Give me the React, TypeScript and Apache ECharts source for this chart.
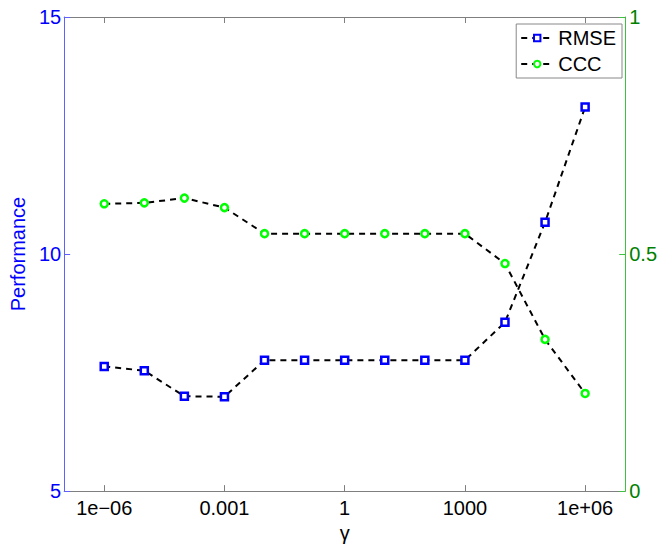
import React, { useEffect, useRef } from "react";
import * as echarts from "echarts";

const gammas = [1e-6, 1e-5, 1e-4, 1e-3, 1e-2, 1e-1, 1, 10, 100, 1000, 1e4, 1e5, 1e6];
const rmse = [7.63, 7.54, 7.0, 6.99, 7.76, 7.76, 7.76, 7.76, 7.76, 7.76, 8.56, 10.67, 13.1];
const ccc = [0.606, 0.608, 0.618, 0.598, 0.543, 0.543, 0.543, 0.543, 0.543, 0.543, 0.48, 0.32, 0.206];
const xTickValues = [1e-6, 1e-3, 1, 1e3, 1e6];
const xTickLabels = ["1e\u221206", "0.001", "1", "1000", "1e+06"];

const FONT = "Liberation Sans, Arial, sans-serif";

export default function App() {
  const ref = useRef<HTMLDivElement>(null);
  useEffect(() => {
    if (!ref.current) return;
    const chart = echarts.init(ref.current, null, { renderer: "svg" });
    const labelFor = (v: number) => {
      const i = xTickValues.findIndex((t) => Math.abs(Math.log10(t) - Math.log10(v)) < 1e-6);
      return i >= 0 ? xTickLabels[i] : "";
    };
    const grayAxis = { lineStyle: { color: "#7f7f7f", width: 1 } };
    chart.setOption({
      animation: false,
      backgroundColor: "#ffffff",
      textStyle: { fontFamily: FONT },
      grid: { left: 63, right: 34, top: 17, bottom: 52, containLabel: false },
      legend: {
        orient: "vertical",
        right: 38,
        top: 24,
        backgroundColor: "#ffffff",
        borderColor: "#888888",
        borderWidth: 1,
        borderRadius: 0,
        padding: [4, 6, 4, 4],
        itemGap: 6,
        itemWidth: 32,
        itemHeight: 8,
        textStyle: { fontSize: 20, color: "#000000", fontFamily: FONT },
        data: ["RMSE", "CCC"],
      },
      xAxis: [
        {
          type: "log",
          logBase: 10,
          min: 1e-7,
          max: 1e7,
          position: "bottom",
          name: "\u03b3",
          nameLocation: "middle",
          nameGap: 28,
          nameTextStyle: { fontSize: 20, color: "#000000", fontFamily: FONT },
          axisLine: grayAxis,
          axisTick: { inside: true, length: 6, lineStyle: { color: "#7f7f7f" }, customValues: xTickValues },
          axisLabel: {
            fontSize: 20,
            color: "#000000",
            margin: 7,
            fontFamily: FONT,
            customValues: xTickValues,
            formatter: (v: number) => labelFor(v),
          },
          splitLine: { show: false },
          minorTick: { show: false },
        },
        {
          type: "log",
          logBase: 10,
          min: 1e-7,
          max: 1e7,
          position: "top",
          axisLine: grayAxis,
          axisTick: { inside: true, length: 6, lineStyle: { color: "#7f7f7f" }, customValues: xTickValues },
          axisLabel: { show: false },
          splitLine: { show: false },
        },
      ],
      yAxis: [
        {
          type: "value",
          min: 5,
          max: 15,
          interval: 5,
          position: "left",
          name: "Performance",
          nameLocation: "middle",
          nameGap: 36,
          nameTextStyle: { fontSize: 20, color: "#0000ff", fontFamily: FONT },
          axisLine: { show: true, lineStyle: { color: "#6060ff", width: 1 } },
          axisTick: { show: true, inside: true, length: 6, lineStyle: { color: "#6060ff" } },
          axisLabel: { fontSize: 20, color: "#0000ff", margin: 3, fontFamily: FONT },
          splitLine: { show: false },
        },
        {
          type: "value",
          min: 0,
          max: 1,
          interval: 0.5,
          position: "right",
          axisLine: { show: true, lineStyle: { color: "#40c040", width: 1 } },
          axisTick: { show: true, inside: true, length: 6, lineStyle: { color: "#40c040" } },
          axisLabel: { fontSize: 20, color: "#008000", margin: 4, fontFamily: FONT },
          splitLine: { show: false },
        },
      ],
      series: [
        {
          name: "RMSE",
          type: "line",
          xAxisIndex: 0,
          yAxisIndex: 0,
          data: gammas.map((g, i) => [g, rmse[i]]),
          symbol: "rect",
          symbolSize: 7,
          color: "#0000ff",
          lineStyle: { color: "#000000", width: 2, type: [6, 5] },
          itemStyle: { color: "#ffffff", borderColor: "#0000ff", borderWidth: 2.5 },
          z: 3,
        },
        {
          name: "CCC",
          type: "line",
          xAxisIndex: 0,
          yAxisIndex: 1,
          data: gammas.map((g, i) => [g, ccc[i]]),
          symbol: "circle",
          symbolSize: 7,
          color: "#00ff00",
          lineStyle: { color: "#000000", width: 2, type: [6, 5] },
          itemStyle: { color: "#ffffff", borderColor: "#00ff00", borderWidth: 2.5 },
          z: 3,
        },
      ],
    });
    return () => chart.dispose();
  }, []);
  return <div ref={ref} style={{ width: 660, height: 548, position: "absolute", left: 0, top: 0 }} />;
}
